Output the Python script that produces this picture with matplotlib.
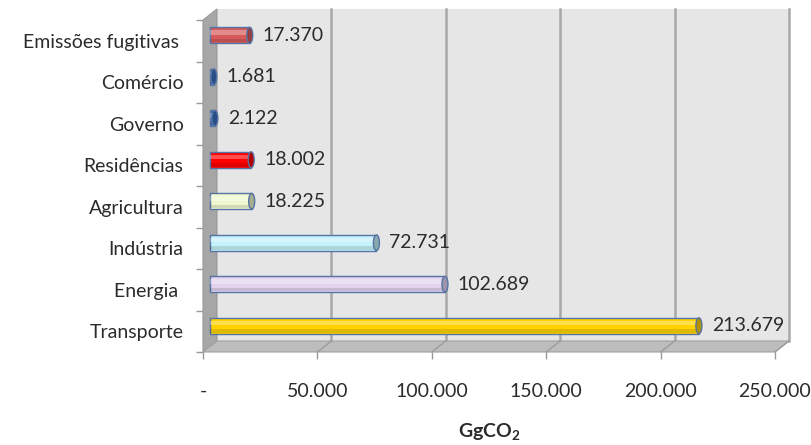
import numpy as np
import matplotlib
matplotlib.use("Agg")
import matplotlib.pyplot as plt
import matplotlib.colors as mcolors
from matplotlib.patches import Polygon, Rectangle, Ellipse

# data (bottom to top)
categorias = ["Transporte", "Energia ", "Indústria", "Agricultura", "Residências",
              "Governo", "Comércio", "Emissões fugitivas "]
valores = [213679, 102689, 72731, 18225, 18002, 2122, 1681, 17370]
cores = ["#ffd200", "#e3d3ee", "#c4f2fa", "#eef7cf", "#ff0000",
         "#3a6fbf", "#3a6fbf", "#d65a5a"]
xticks = [0, 50000, 100000, 150000, 200000, 250000]
xtick_labels = ["-", "50.000", "100.000", "150.000", "200.000", "250.000"]

plt.rcParams['font.family'] = ['Lato', 'DejaVu Sans']
plt.rcParams['mathtext.fontset'] = 'custom'
plt.rcParams['mathtext.rm'] = 'Lato'
plt.rcParams['mathtext.bf'] = 'Lato:bold'

FS = 14
TXT = "#2b2b2b"

W, H = 812, 445
fig = plt.figure(figsize=(W/100, H/100), dpi=100)
ax = fig.add_axes([203/W, (H-352)/H, 572/W, 332/H])
ax.patch.set_visible(False)
xmax = xticks[-1]
n = len(categorias)
ax.set_xlim(0, xmax)
ax.set_ylim(-0.5, n - 0.5)
px = xmax / 572.0          # data units per pixel (x)
py = n / 332.0             # data units per pixel (y)

# 3D depth offset
dx = 14 * px
dy = 11 * py
y0, y1 = -0.5, n - 0.5

# back wall
ax.add_patch(Rectangle((dx, y0 + dy), xmax, n, facecolor="#e6e6e6",
                       edgecolor="none", zorder=0, clip_on=False))
for v in xticks[1:]:
    ax.plot([v + dx, v + dx], [y0 + dy, y1 + dy], color="#a8a8a8", lw=1.8,
            zorder=1, clip_on=False)
# left wall
ax.add_patch(Polygon([(0, y0), (0, y1), (dx, y1 + dy), (dx, y0 + dy)],
                     facecolor="#a6a6a6", edgecolor="#999999", lw=0.8,
                     zorder=2, clip_on=False))
# floor
ax.add_patch(Polygon([(0, y0), (xmax, y0), (xmax + dx, y0 + dy), (dx, y0 + dy)],
                     facecolor="#bdbdbd", edgecolor="#a0a0a0", lw=0.8,
                     zorder=2, clip_on=False))
for v in xticks[1:]:
    ax.plot([v, v + dx], [y0, y0 + dy], color="#999999", lw=0.9,
            zorder=3, clip_on=False)

# bars (cylinders at mid depth)
bh = 0.38
ypos = np.arange(n) + dy / 2
x0 = dx / 2
ax.barh(ypos, valores, left=x0, height=bh, color=cores, edgecolor="#5573a3",
        linewidth=1, zorder=5)
ax.barh(ypos + bh * 0.17, valores, left=x0, height=bh * 0.3, color="white",
        alpha=0.3, linewidth=0, zorder=6)
ax.barh(ypos - bh * 0.33, valores, left=x0, height=bh * 0.2, color="black",
        alpha=0.12, linewidth=0, zorder=6)
capw = 6 * px
for y, v, c in zip(ypos, valores, cores):
    dark = np.array(mcolors.to_rgb(c)) * 0.7
    ax.add_patch(Ellipse((x0 + v, y), capw, bh, facecolor=dark,
                         edgecolor="#5573a3", lw=1, zorder=7, clip_on=False))
    ax.text(x0 + v + 13 * px, y, f"{v:,}".replace(",", "."), ha="left",
            va="center", fontsize=FS, color=TXT, zorder=8)

# axes
for s in ax.spines.values():
    s.set_visible(False)
ax.set_yticks(np.arange(n))
ax.set_yticklabels(categorias, fontsize=FS, color=TXT)
ax.tick_params(axis='y', which='major', length=0, pad=14)
ax.set_yticks(np.arange(n + 1) - 0.5, minor=True)
ax.tick_params(axis='y', which='minor', length=5, color="#999999", width=1)
ax.set_xticks(xticks)
ax.set_xticklabels(xtick_labels, fontsize=FS, color=TXT)
ax.tick_params(axis='x', length=5, color="#999999", width=1, pad=17)
ax.set_xlabel(r"GgCO$_\mathbf{2}$", fontsize=FS, fontweight="bold",
              color=TXT, labelpad=16)

fig.savefig("out.png", dpi=100)
